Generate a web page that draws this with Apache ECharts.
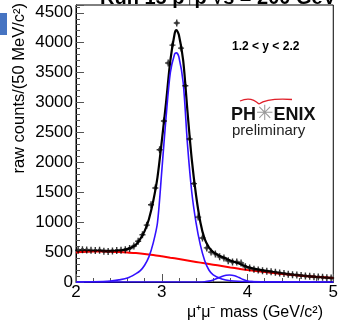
<!DOCTYPE html>
<html>
<head>
<meta charset="utf-8">
<script src="https://cdn.jsdelivr.net/npm/echarts@6/dist/echarts.min.js"></script>
<style>html,body{margin:0;padding:0;background:#fff;}#c{width:341px;height:325px;}</style>
</head>
<body>
<div id="c"></div>
<script>
// Data points: bin centres (GeV/c^2) and raw counts per 50 MeV
const massBins = [2.025,2.075,2.125,2.175,2.225,2.275,2.325,2.375,2.425,2.475,2.525,2.575,2.625,2.675,2.725,2.775,2.825,2.875,2.925,2.975,3.025,3.075,3.125,3.175,3.225,3.275,3.325,3.375,3.425,3.475,3.525,3.575,3.625,3.675,3.725,3.775,3.825,3.875,3.925,3.975,4.025,4.075,4.125,4.175,4.225,4.275,4.325,4.375,4.425,4.475,4.525,4.575,4.625,4.675,4.725,4.775,4.825,4.875,4.925,4.975];
const counts = [530,540,535,530,525,530,515,510,520,525,530,540,560,600,680,790,950,1290,1570,2210,2690,3660,3960,4330,3910,3280,2390,1645,1085,736,570,500,470,420,400,355,335,335,318,255,232,215,200,190,180,172,165,150,140,130,122,117,110,100,95,88,84,78,72,67];

// Fit curves (mass, value)
const totalFitX = [2.0,2.1,2.2,2.3,2.4,2.5,2.55,2.6,2.65,2.7,2.75,2.8,2.85,2.9,2.95,3.0,3.05,3.1,3.15,3.17,3.2,3.25,3.3,3.35,3.4,3.45,3.5,3.55,3.6,3.65,3.7,3.75,3.8,3.85,3.9,3.95,4.0,4.1,4.2,4.3,4.4,4.5,4.6,4.7,4.8,4.9,5.0];
const totalFitY = [500,512,518,520,520,525,535,550,580,625,720,850,1050,1350,1750,2350,3000,3700,4150,4210,4130,3700,2850,2050,1450,1000,720,580,500,455,420,390,360,335,310,280,250,215,190,165,145,127,112,97,85,75,66];

const bgX = [2.0,2.1,2.2,2.3,2.4,2.5,2.6,2.7,2.8,2.9,3.0,3.1,3.2,3.3,3.4,3.5,3.6,3.7,3.8,3.9,4.0,4.2,4.4,4.6,4.8,5.0];
const bgY = [495,505,508,508,505,500,492,483,470,452,430,407,384,360,336,312,290,268,244,222,200,165,135,108,86,67];

const jpsiX = [2.0,2.2,2.4,2.5,2.6,2.7,2.75,2.8,2.85,2.9,2.95,3.0,3.05,3.1,3.15,3.17,3.2,3.25,3.3,3.35,3.4,3.45,3.5,3.55,3.6,3.7,3.8,4.0,4.5,5.0];
const jpsiY = [0,3,15,35,65,140,190,280,420,650,990,1850,2750,3500,3810,3830,3760,3330,2300,1500,990,620,360,200,120,50,20,6,1,0];

const psi2sX = [2.0,3.0,3.45,3.5,3.55,3.6,3.65,3.7,3.75,3.79,3.85,3.9,3.95,4.0,4.05,4.1,4.2,5.0];
const psi2sY = [0,0,0,5,15,35,62,92,112,117,105,75,40,18,6,1,0,0];

const yTicks = [0,500,1000,1500,2000,2500,3000,3500,4000,4500];
const xTicks = [2,3,4,5];

function pairs(xs, ys){ return xs.map((x,i)=>[x, ys[i]]); }

const chart = echarts.init(document.getElementById('c'), null, {renderer:'canvas'});
const font = 'Liberation Sans, Arial, Helvetica, sans-serif';
chart.setOption({
  animation:false,
  backgroundColor:'#fff',
  grid:{left:76, right:3, top:5, bottom:43, show:true, borderColor:'#000', borderWidth:1, backgroundColor:'transparent'},
  xAxis:{
    type:'value', min:2, max:5, interval:1,
    axisLine:{show:true, lineStyle:{color:'#000', width:1}},
    axisTick:{show:true, inside:true, length:8, lineStyle:{color:'#555'}},
    minorTick:{show:true, splitNumber:5, length:4, lineStyle:{color:'#555'}},
    splitLine:{show:false},
    axisLabel:{color:'#000', fontSize:17, fontFamily:font, margin:2,
      formatter:v=> xTicks.includes(v) ? String(v) : ''}
  },
  yAxis:{
    type:'value', min:0, max:4630, interval:500,
    axisLine:{show:true, lineStyle:{color:'#000', width:1}},
    axisTick:{show:true, inside:true, length:8, lineStyle:{color:'#555'}},
    minorTick:{show:true, splitNumber:5, length:4, lineStyle:{color:'#555'}},
    splitLine:{show:false},
    axisLabel:{color:'#000', fontSize:17, fontFamily:font, margin:3,
      formatter:v=> yTicks.includes(v) ? String(v) : ''}
  },
  series:[
    {type:'line', data:pairs(totalFitX,totalFitY), smooth:0.3, showSymbol:false, symbol:'none',
      lineStyle:{color:'#000', width:2.2}, z:2},
    {type:'line', data:pairs(bgX,bgY), smooth:0.3, showSymbol:false, symbol:'none',
      lineStyle:{color:'#ff0000', width:2}, z:3},
    {type:'line', data:pairs(jpsiX,jpsiY), smooth:0.3, showSymbol:false, symbol:'none',
      lineStyle:{color:'#3311ff', width:1.6}, z:4},
    {type:'line', data:pairs(psi2sX,psi2sY), smooth:0.3, showSymbol:false, symbol:'none',
      lineStyle:{color:'#3311ff', width:1.6}, z:4},
    {type:'scatter', data:pairs(massBins,counts),
      symbol:'path://M-3,-0.7H3V0.7H-3Z M-0.7,-3.5H0.7V3.5H-0.7Z M-1.5,-1.5H1.5V1.5H-1.5Z',
      symbolSize:[6,7], itemStyle:{color:'#000'}, z:6}
  ],
  graphic:[
    {type:'rect', shape:{x:0,y:13,width:7,height:22}, style:{fill:'#4674c2'}},
    {type:'text', x:218, y:-12, style:{text:'Run 15 p\u2191p \u221As = 200 GeV', font:'bold 20px '+font, fill:'#000', textAlign:'center', textVerticalAlign:'top'}},
    {type:'text', x:232, y:47, style:{text:'1.2 < y < 2.2', font:'bold 12px '+font, fill:'#000', textAlign:'left', textVerticalAlign:'middle'}},
    {type:'bezierCurve', shape:{x1:240,y1:101,cpx1:251,cpy1:96,x2:259,y2:104}, style:{stroke:'#e0202a', lineWidth:1.3, fill:null}},
    {type:'bezierCurve', shape:{x1:259,y1:104,cpx1:267,cpy1:98,x2:292,y2:99.5}, style:{stroke:'#e0202a', lineWidth:1.3, fill:null}},
    {type:'text', x:231, y:115, style:{text:'{a|PH}{s|\u2733}{a|ENIX}', font:'bold 18px '+font, textVerticalAlign:'middle',
      rich:{a:{font:'bold 18px '+font, fill:'#111'}, s:{font:'bold 21px DejaVu Sans', fill:'#9a9a9a'}}}},
    {type:'text', x:232, y:131, style:{text:'preliminary', font:'15px '+font, fill:'#222', textVerticalAlign:'middle'}},
    {type:'text', x:323, y:313, style:{text:'\u03BC\u207A\u03BC\u207B mass (GeV/c\u00B2)', font:'16px '+font, fill:'#000', textAlign:'right', textVerticalAlign:'middle'}},
    {type:'text', x:19, y:3, rotation:Math.PI/2, style:{text:'raw counts/(50 MeV/c\u00B2)', font:'16.5px '+font, fill:'#000', textAlign:'right', textVerticalAlign:'middle'}}
  ]
});
</script>
</body>
</html>
